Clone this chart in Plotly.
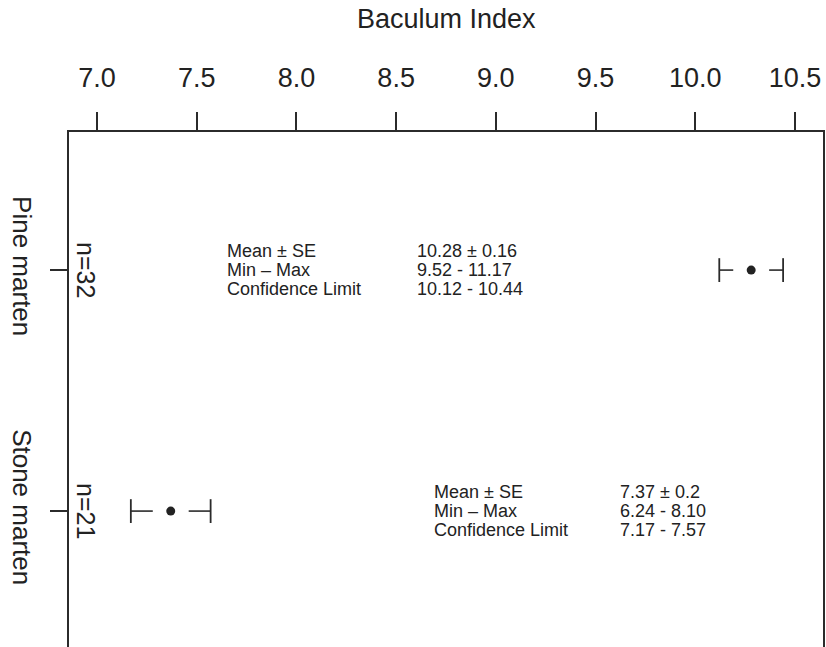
import plotly.graph_objects as go

# ---- data ----
species = ["Pine marten", "Stone marten"]
n_labels = ["n=32", "n=21"]
means = [10.28, 7.37]
ci_low = [10.12, 7.17]
ci_high = [10.44, 7.57]
stat_labels = ["Mean ± SE", "Min – Max", "Confidence Limit"]
mean_se_text = ["10.28 ± 0.16", "7.37 ± 0.2"]
min_max_text = ["9.52 - 11.17", "6.24 - 8.10"]
ci_text = ["10.12 - 10.44", "7.17 - 7.57"]
x_ticks = [7.0, 7.5, 8.0, 8.5, 9.0, 9.5, 10.0, 10.5]
x_title = "Baculum Index"

# ---- style / layout ----
FONT = "Liberation Sans, Arial, sans-serif"
LINE = "#2b2b2b"
TEXT = "#222222"
gap = 0.09                      # gap between point and CI whiskers (axis units)
label_x = [7.64, 8.678]         # where the stats text block starts, per species
value_x = [8.593, 9.61]         # where the stats values start, per species
row_shift = [19, 0, -19]        # vertical offset (px) of the three stats rows

fig = go.Figure()

for i, sp in enumerate(species):
    fig.add_trace(go.Scatter(
        x=[ci_low[i], means[i] - gap, None, means[i] + gap, ci_high[i]],
        y=[i, i, None, i, i],
        mode="lines", line=dict(color=LINE, width=1.6),
        hoverinfo="skip", showlegend=False))
    fig.add_trace(go.Scatter(
        x=[ci_low[i], ci_high[i]], y=[i, i], mode="markers",
        marker=dict(symbol="line-ns", size=17, line=dict(color=LINE, width=1.8)),
        hoverinfo="skip", showlegend=False))

fig.add_trace(go.Scatter(
    x=means, y=list(range(len(species))), mode="markers",
    marker=dict(symbol="circle", size=9, color=TEXT),
    showlegend=False))

annotations = []
for i in range(len(species)):
    vals = [mean_se_text[i], min_max_text[i], ci_text[i]]
    for r in range(3):
        annotations.append(dict(x=label_x[i], y=i, xref="x", yref="y",
                                text=stat_labels[r], showarrow=False,
                                xanchor="left", yanchor="middle", yshift=row_shift[r],
                                font=dict(family=FONT, size=18, color=TEXT)))
        annotations.append(dict(x=value_x[i], y=i, xref="x", yref="y",
                                text=vals[r], showarrow=False,
                                xanchor="left", yanchor="middle", yshift=row_shift[r],
                                font=dict(family=FONT, size=18, color=TEXT)))
    annotations.append(dict(x=0, y=i, xref="paper", yref="y", text=n_labels[i],
                            showarrow=False, textangle=90, xanchor="center",
                            yanchor="middle", xshift=17,
                            font=dict(family=FONT, size=25, color=TEXT)))

annotations.append(dict(x=0.5, y=1 + (132 - 19) / 515, xref="paper", yref="paper",
                        text=x_title, showarrow=False, xanchor="center",
                        yanchor="middle",
                        font=dict(family=FONT, size=27, color=TEXT)))

fig.update_layout(
    width=826, height=647,
    margin=dict(l=69, r=3, t=132, b=0, autoexpand=False),
    paper_bgcolor="white", plot_bgcolor="white",
    font=dict(family=FONT, size=27, color=TEXT),
    annotations=annotations,
    xaxis=dict(side="top", range=[6.86, 10.64], tickvals=x_ticks,
               ticktext=[f"{v:.1f}" for v in x_ticks], automargin=False,
               ticks="outside", ticklen=18, tickwidth=1.6, tickcolor=LINE,
               showline=True, linewidth=2.2, linecolor=LINE, mirror=False,
               showgrid=False, zeroline=False, ticklabelstandoff=14,
               tickfont=dict(family=FONT, size=27, color=TEXT)),
    yaxis=dict(range=[1.564, -0.573], tickvals=list(range(len(species))),
               ticktext=species, tickangle=90, automargin=False,
               ticks="outside", ticklen=17, tickwidth=1.6, tickcolor=LINE,
               showline=True, linewidth=2.2, linecolor=LINE, mirror=True,
               showgrid=False, zeroline=False, ticklabelstandoff=6,
               tickfont=dict(family=FONT, size=26, color=TEXT)),
)

fig.write_html("out.html", config={"displayModeBar": False},
               post_script="document.body.style.margin='0';document.body.style.overflow='hidden';")
